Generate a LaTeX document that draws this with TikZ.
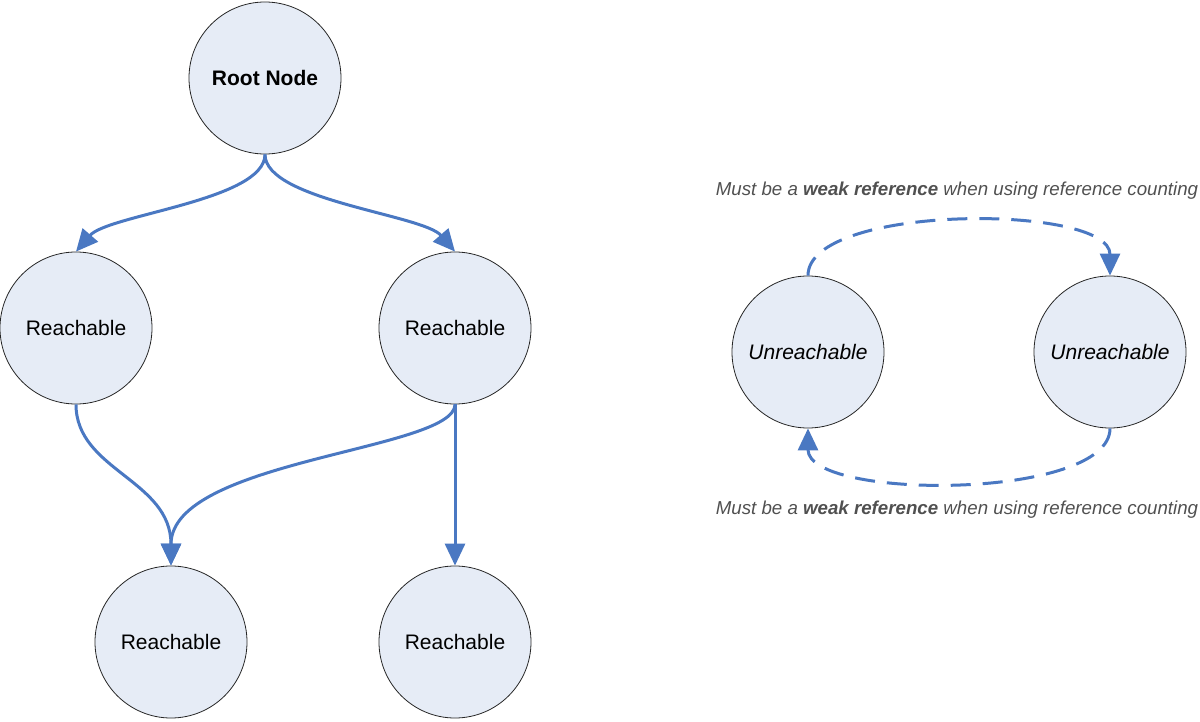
\documentclass[tikz,border=0pt]{standalone}
\usepackage{fontspec}
\setmainfont{Liberation Sans}
\usetikzlibrary{arrows.meta}
\definecolor{nodefill}{HTML}{E6ECF6}
\definecolor{edgeblue}{HTML}{4A78C2}
\definecolor{labelgray}{HTML}{505050}
\begin{document}
\begin{tikzpicture}[x=1pt,y=-1pt,
  circ/.style={circle,draw=black!85,line width=0.8pt,fill=nodefill,minimum size=152pt,inner sep=0pt,font=\fontsize{21}{25}\selectfont},
  edge/.style={draw=edgeblue,line width=3pt,-{Triangle[length=22pt,width=20pt]}},
  dashedge/.style={edge,dash pattern=on 20pt off 12pt},
  note/.style={font=\fontsize{18.7}{22}\selectfont\itshape,text=labelgray,inner sep=0pt}
]
\useasboundingbox (0,0) rectangle (1200,722);
\node[circ] (root) at (265,78) {\textbf{Root Node}};
\node[circ] (r1) at (76,328) {Reachable};
\node[circ] (r2) at (455,328) {Reachable};
\node[circ] (r3) at (171,642) {Reachable};
\node[circ] (r4) at (455,642) {Reachable};
\node[circ] (u1) at (808,352) {\itshape Unreachable};
\node[circ] (u2) at (1110,352) {\itshape Unreachable};
\node[note] (n1) at (957,191) {Must be a \textbf{weak reference} when using reference counting};
\node[note] (n2) at (957,510) {Must be a \textbf{weak reference} when using reference counting};

\draw[edge] (root.south) .. controls +(0,46) and +(32,-37) .. (r1.north);
\draw[edge] (root.south) .. controls +(0,46) and +(-32,-37) .. (r2.north);
\draw[edge] (r1.south) .. controls +(0,66) and +(0,-86) .. (r3.north);
\draw[edge] (r2.south) .. controls +(0,46) and +(0,-106) .. (r3.north);
\draw[edge] (r2.south) -- (r4.north);
\draw[dashedge] (u1.north) .. controls +(0,-72) and +(0,-72) .. (u2.north);
\draw[dashedge] (u2.south) .. controls +(0,72) and +(0,72) .. (u1.south);
\end{tikzpicture}
\end{document}
